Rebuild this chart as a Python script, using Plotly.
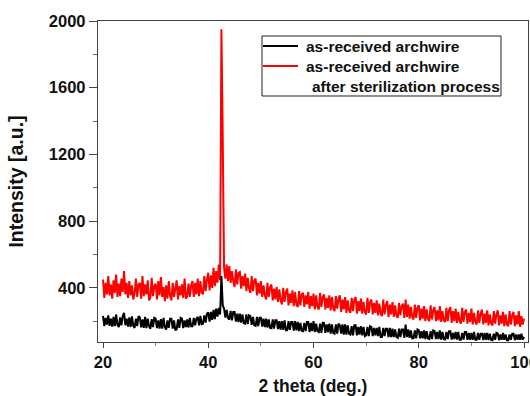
import numpy as np
import plotly.graph_objects as go

# 2-theta grid: 20 -> 100 deg, step 0.25 deg
THETA_START = 20.0
THETA_STEP = 0.25

# Intensity, 4 samples per degree (x.00, x.25, x.50, x.75)
sterilized = [
    450, 340, 430, 360,  470, 355, 420, 335,  445, 370, 480, 345,  425, 350, 455, 375,
    500, 360, 430, 340,  440, 355, 415, 330,  365, 455, 345, 420,  430, 335, 470, 350,
    420, 360, 445, 325,  340, 460, 350, 410,  425, 330, 440, 355,  465, 345, 405, 320,
    415, 335, 440, 350,  325, 430, 345, 400,  445, 330, 410, 355,  420, 340, 455, 335,
    350, 425, 345, 415,  440, 345, 430, 360,  455, 350, 440, 370,  365, 470, 380, 450,
    490, 385, 475, 400,  520, 410, 500, 430,  540, 445, 1950, 1300, 520, 455, 540, 440,
    530, 430, 500, 440,  405, 510, 420, 490,  495, 395, 470, 410,  485, 380, 460, 395,
    370, 470, 380, 445,  455, 355, 430, 365,  440, 345, 415, 355,  330, 430, 345, 405,
    420, 325, 395, 330,  405, 315, 390, 325,  300, 400, 315, 375,  395, 295, 365, 310,
    385, 290, 375, 300,  285, 380, 295, 360,  370, 285, 355, 300,  375, 275, 350, 290,
    365, 270, 355, 285,  270, 370, 285, 345,  360, 270, 340, 280,  355, 265, 345, 275,
    260, 350, 275, 335,  355, 255, 330, 270,  345, 250, 325, 265,  250, 340, 260, 330,
    345, 245, 320, 260,  335, 245, 315, 255,  240, 340, 250, 315,  330, 240, 310, 250,
    325, 235, 305, 245,  230, 330, 240, 300,  320, 225, 300, 240,  315, 225, 295, 235,
    220, 310, 235, 290,  305, 220, 330, 225,  300, 215, 285, 225,  210, 300, 220, 280,
    295, 205, 275, 215,  290, 200, 270, 215,  200, 295, 210, 265,  285, 200, 265, 205,
    290, 195, 260, 205,  195, 280, 200, 265,  285, 190, 260, 200,  275, 190, 255, 200,
    185, 280, 195, 255,  270, 185, 250, 195,  275, 180, 250, 195,  180, 265, 190, 245,
    270, 180, 245, 190,  265, 175, 240, 185,  175, 260, 185, 240,  265, 175, 235, 185,
    255, 170, 240, 180,  170, 260, 180, 235,  255, 170, 235, 180,  260, 165, 230, 180,
    215,
]

as_received = [
    232, 170, 220, 180,  235, 172, 215, 168,  225, 170, 240, 178,  165, 222, 175, 230,
    250, 175, 215, 168,  222, 165, 228, 172,  160, 215, 170, 230,  222, 163, 210, 160,
    225, 158, 215, 170,  155, 212, 165, 220,  215, 158, 205, 155,  212, 155, 220, 165,
    150, 205, 160, 215,  215, 155, 205, 145,  152, 210, 160, 220,  215, 158, 205, 165,
    210, 162, 220, 170,  170, 220, 175, 215,  225, 175, 232, 182,  185, 235, 192, 245,
    252, 198, 255, 208,  268, 212, 275, 228,  280, 240, 470, 295,  275, 222, 268, 218,
    210, 262, 205, 255,  255, 198, 245, 195,  245, 192, 240, 188,  185, 240, 183, 235,
    230, 178, 225, 175,  172, 225, 170, 220,  220, 168, 215, 165,  215, 162, 210, 160,
    158, 210, 155, 205,  205, 152, 200, 150,  200, 148, 205, 145,  145, 200, 148, 195,
    195, 143, 200, 145,  195, 140, 190, 143,  140, 190, 140, 195,  195, 135, 190, 140,
    200, 135, 185, 140,  135, 185, 130, 190,  188, 130, 180, 135,  185, 125, 180, 130,
    125, 180, 125, 185,  175, 125, 180, 120,  180, 120, 175, 125,  120, 170, 115, 175,
    175, 115, 165, 120,  170, 115, 165, 110,  115, 165, 110, 170,  165, 110, 160, 115,
    160, 110, 165, 105,  105, 160, 110, 155,  155, 105, 160, 105,  155, 105, 150, 105,
    100, 155, 105, 150,  150, 100, 180, 105,  150, 100, 145, 97,   97, 145, 97, 150,
    145, 97, 140, 97,    145, 93, 140, 97,    93, 140, 93, 145,    140, 93, 135, 93,
    145, 90, 135, 93,    90, 135, 92, 140,    140, 90, 130, 92,    135, 90, 135, 88,
    88, 130, 90, 135,    135, 88, 130, 88,    130, 88, 135, 88,    88, 130, 88, 125,
    125, 86, 130, 88,    130, 86, 125, 88,    86, 125, 88, 130,    125, 86, 120, 88,
    130, 88, 120, 86,    86, 120, 88, 125,    125, 86, 120, 88,    120, 88, 125, 90,
    105,
]

two_theta = THETA_START + THETA_STEP * np.arange(len(as_received))

x_ticks = [20, 40, 60, 80, 100]
y_ticks = [400, 800, 1200, 1600, 2000]

legend_labels = ["as-received archwire", "as-received archwire", "after sterilization process"]
series_colors = ["#000000", "#ff0000"]

FONT = "Liberation Sans, Arial, sans-serif"

fig = go.Figure()
fig.add_trace(go.Scatter(
    x=two_theta, y=sterilized, mode="lines",
    name="as-received archwire after sterilization process",
    line=dict(color=series_colors[1], width=2.0), showlegend=False,
))
fig.add_trace(go.Scatter(
    x=two_theta, y=as_received, mode="lines",
    name="as-received archwire",
    line=dict(color=series_colors[0], width=2.0), showlegend=False,
))

axis_common = dict(
    showgrid=False, zeroline=False, showline=True, linecolor="#444444", linewidth=1.3,
    mirror=True, ticks="outside", tickwidth=1.3, tickcolor="#444444",
    tickfont=dict(family=FONT, size=16.5, color="#111111", weight="bold"),
)

fig.update_xaxes(
    range=[19.05, 100.75], tickvals=x_ticks, ticktext=[str(v) for v in x_ticks],
    ticklen=5, ticklabeloverflow="allow", automargin=False,
    minor=dict(dtick=10, tick0=0, ticks="outside", ticklen=3, tickcolor="#888888"),
    title=dict(text="2 theta (deg.)", font=dict(family=FONT, size=17.5, color="#111111", weight="bold"), standoff=13),
    **axis_common,
)
fig.update_yaxes(
    range=[75, 2000], tickvals=y_ticks, ticktext=[str(v) for v in y_ticks],
    ticklen=8, automargin=False,
    minor=dict(dtick=200, tick0=0, ticks="outside", ticklen=4, tickcolor="#666666"),
    title=dict(text="Intensity [a.u.]", font=dict(family=FONT, size=19.5, color="#111111", weight="bold"), standoff=20),
    **axis_common,
)

# Legend box drawn in paper coordinates (matches the boxed legend of the original)
LEG_X0, LEG_X1, LEG_Y0, LEG_Y1 = 0.3814, 0.9372, 0.7664, 0.9533
SAMPLE_X0, SAMPLE_X1 = 0.3837, 0.4651
TEXT_X = 0.4800
ROW_Y = [0.9221, 0.8598, 0.7975]

fig.add_shape(type="rect", xref="paper", yref="paper",
              x0=LEG_X0, x1=LEG_X1, y0=LEG_Y0, y1=LEG_Y1,
              line=dict(color="#222222", width=1), fillcolor="white", layer="above")
for i, col in enumerate(series_colors):
    fig.add_shape(type="line", xref="paper", yref="paper",
                  x0=SAMPLE_X0, x1=SAMPLE_X1, y0=ROW_Y[i], y1=ROW_Y[i],
                  line=dict(color=col, width=1.8), layer="above")
for i, lab in enumerate(legend_labels):
    fig.add_annotation(
        xref="paper", yref="paper", x=TEXT_X + (0.012 if i == 2 else 0), y=ROW_Y[i],
        xanchor="left", yanchor="middle", text=lab, showarrow=False,
        font=dict(family=FONT, size=15.5, color="#111111", weight="bold"),
    )

fig.update_layout(
    width=530, height=396,
    margin=dict(l=98, r=2, t=21, b=54),
    plot_bgcolor="white", paper_bgcolor="white",
    showlegend=False,
)

fig.write_html(
    "out.html",
    config={"displayModeBar": False},
    post_script="document.body.style.margin='0';document.body.style.overflow='hidden';",
)
